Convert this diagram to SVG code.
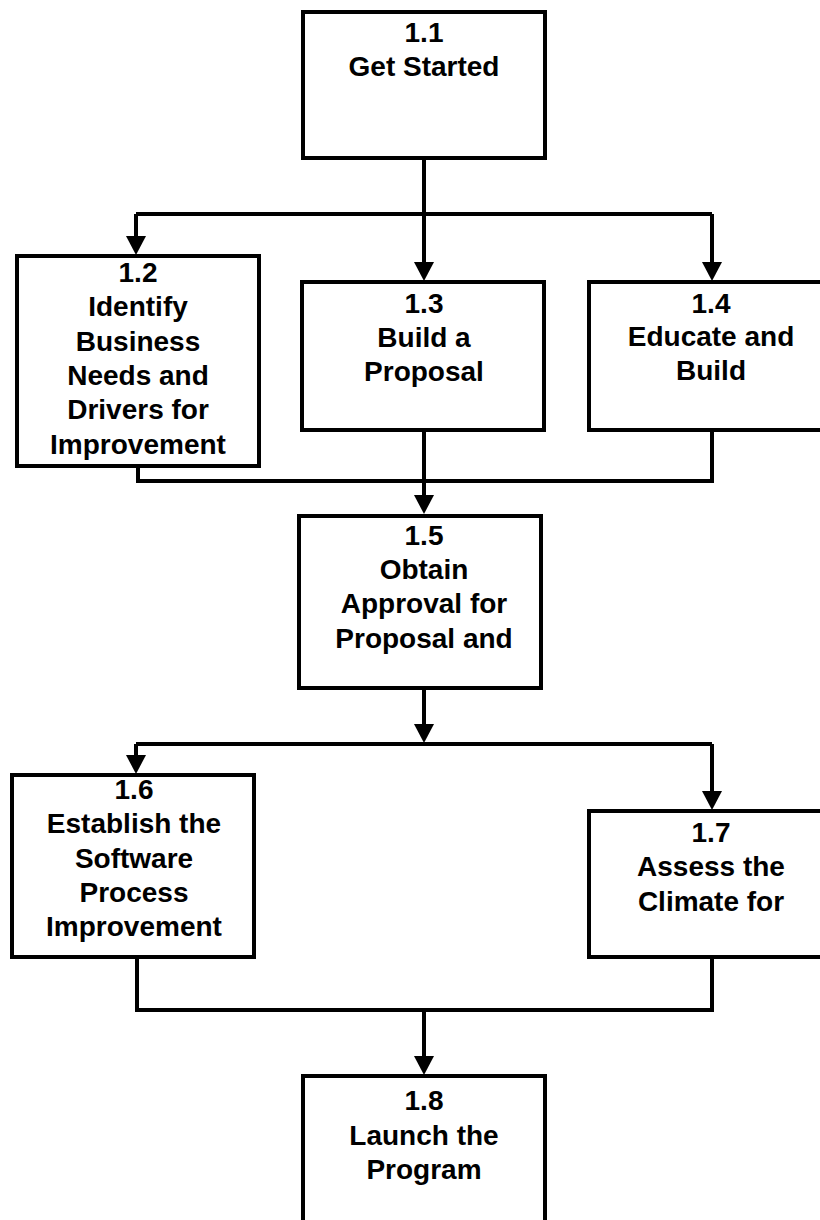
<svg xmlns="http://www.w3.org/2000/svg" width="820" height="1220" viewBox="0 0 820 1220">
  <style>
    .box { fill: #ffffff; stroke: #000000; stroke-width: 4; }
    .conn { fill: none; stroke: #000000; stroke-width: 4; }
    .lbl { font-family: "Liberation Sans", Arial, sans-serif; font-size: 28px; font-weight: bold; fill: #000000; text-anchor: middle; }
  </style>
  <defs>
    <marker id="arrow" viewBox="0 0 19 20" refX="10" refY="10" markerWidth="19" markerHeight="20" markerUnits="userSpaceOnUse" orient="auto">
      <path d="M0,0 L19,10 L0,20 Z" fill="#000000"/>
    </marker>
  </defs>
  <rect x="0" y="0" width="820" height="1220" fill="#ffffff"/>

  <g id="connectors">
    <path class="conn" d="M424,159 V214"/>
    <path class="conn" d="M136,214 H712"/>
    <path class="conn" d="M136,214 V246" marker-end="url(#arrow)"/>
    <path class="conn" d="M424,214 V272" marker-end="url(#arrow)"/>
    <path class="conn" d="M712,214 V272" marker-end="url(#arrow)"/>
    <path class="conn" d="M138,466 V481 H712 V430"/>
    <path class="conn" d="M424,430 V505" marker-end="url(#arrow)"/>
    <path class="conn" d="M424,689 V734" marker-end="url(#arrow)"/>
    <path class="conn" d="M136,744 H712"/>
    <path class="conn" d="M136,744 V765" marker-end="url(#arrow)"/>
    <path class="conn" d="M712,744 V801" marker-end="url(#arrow)"/>
    <path class="conn" d="M137,957 V1010 H712 V957"/>
    <path class="conn" d="M424,1010 V1066" marker-end="url(#arrow)"/>
  </g>

  <g id="node-1-1">
    <rect class="box" x="303" y="12" width="242" height="146"/>
    <text class="lbl" x="424" y="42">1.1</text>
    <text class="lbl" x="424" y="76">Get Started</text>
  </g>
  <g id="node-1-2">
    <rect class="box" x="17" y="256" width="242" height="210"/>
    <text class="lbl" x="138" y="282">1.2</text>
    <text class="lbl" x="138" y="316">Identify</text>
    <text class="lbl" x="138" y="351">Business</text>
    <text class="lbl" x="138" y="385">Needs and</text>
    <text class="lbl" x="138" y="419">Drivers for</text>
    <text class="lbl" x="138" y="454">Improvement</text>
  </g>
  <g id="node-1-3">
    <rect class="box" x="302" y="282" width="242" height="148"/>
    <text class="lbl" x="424" y="313">1.3</text>
    <text class="lbl" x="424" y="347">Build a</text>
    <text class="lbl" x="424" y="381">Proposal</text>
  </g>
  <g id="node-1-4">
    <rect class="box" x="589" y="282" width="242" height="148"/>
    <text class="lbl" x="711" y="313">1.4</text>
    <text class="lbl" x="711" y="346">Educate and</text>
    <text class="lbl" x="711" y="380">Build</text>
  </g>
  <g id="node-1-5">
    <rect class="box" x="299" y="516" width="242" height="172"/>
    <text class="lbl" x="424" y="545">1.5</text>
    <text class="lbl" x="424" y="579">Obtain</text>
    <text class="lbl" x="424" y="613">Approval for</text>
    <text class="lbl" x="424" y="648">Proposal and</text>
  </g>
  <g id="node-1-6">
    <rect class="box" x="12" y="775" width="242" height="182"/>
    <text class="lbl" x="134" y="799">1.6</text>
    <text class="lbl" x="134" y="833">Establish the</text>
    <text class="lbl" x="134" y="868">Software</text>
    <text class="lbl" x="134" y="902">Process</text>
    <text class="lbl" x="134" y="936">Improvement</text>
  </g>
  <g id="node-1-7">
    <rect class="box" x="589" y="811" width="242" height="146"/>
    <text class="lbl" x="711" y="842">1.7</text>
    <text class="lbl" x="711" y="876">Assess the</text>
    <text class="lbl" x="711" y="911">Climate for</text>
  </g>
  <g id="node-1-8">
    <rect class="box" x="303" y="1076" width="242" height="160"/>
    <text class="lbl" x="424" y="1110">1.8</text>
    <text class="lbl" x="424" y="1145">Launch the</text>
    <text class="lbl" x="424" y="1179">Program</text>
  </g>
</svg>
